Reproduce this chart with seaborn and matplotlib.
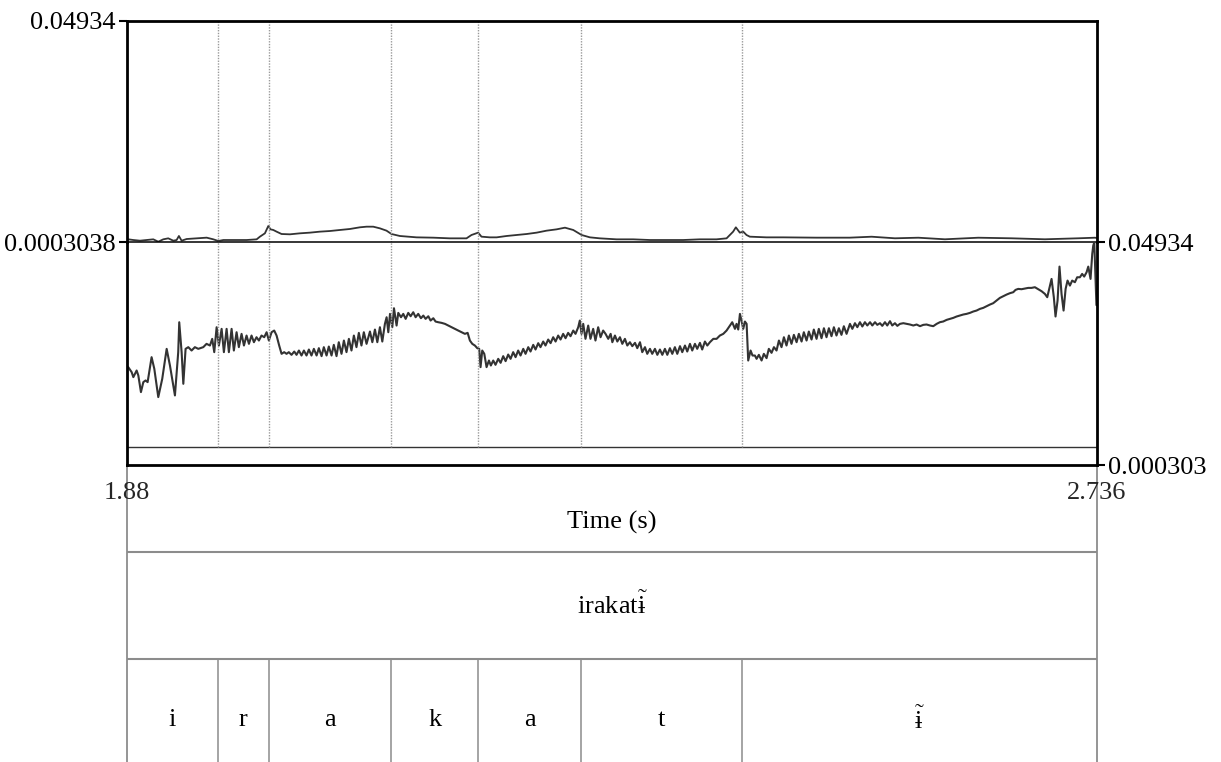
"""
plot.py
Praat-style picture: two contours over time (1.88 - 2.736 s),
with segment boundaries and a two-tier text grid underneath.
"""

import numpy as np
import pandas as pd
import matplotlib
matplotlib.use("Agg")
import matplotlib.pyplot as plt
import seaborn as sns

sns.set_theme(style="white")
plt.rcParams["font.family"] = ["Liberation Serif", "DejaVu Serif"]
plt.rcParams["mathtext.fontset"] = "custom"
plt.rcParams["mathtext.rm"] = "Liberation Serif"
plt.rcParams["mathtext.it"] = "Liberation Serif:italic"

# ===== Data =====
T_START, T_END = 1.88, 2.736
TOP_LIM = (0.0003038, 0.04934)
BOT_LIM = (0.000303, 0.04934)
TOP_TICKLABELS = ["0.0003038", "0.04934"]
BOT_TICKLABELS = ["0.000303", "0.04934"]
X_TICKLABELS = ["1.88", "2.736"]

boundaries = [1.960, 2.005, 2.113, 2.190, 2.281, 2.423]
# barred i with tilde above, set with mathtext so the tilde sits on the letter
I_TILDE = r"$\tilde{\mathrm{" + "\u0268" + r"}}$"
phones = ["i", "r", "a", "k", "a", "t", I_TILDE]
word = "irakat" + I_TILDE

# (time s, value x 1e-3)
top_trace = [
    (1.8800, 0.96), (1.8812, 0.96), (1.8856, 0.81), (1.8915, 0.66), (1.8973, 0.81),
    (1.9032, 0.96), (1.9076, 0.44), (1.9120, 0.96), (1.9164, 1.18), (1.9209, 0.66),
    (1.9238, 0.81), (1.9258, 1.70), (1.9282, 0.66), (1.9326, 1.03), (1.9414, 1.18),
    (1.9503, 1.33), (1.9562, 0.96), (1.9606, 0.59), (1.9650, 0.81), (1.9738, 0.81),
    (1.9856, 0.81), (1.9944, 0.96), (1.9973, 1.55), (2.0017, 2.29), (2.0047, 3.91),
    (2.0067, 3.17), (2.0091, 3.03), (2.0120, 2.66), (2.0164, 2.14), (2.0238, 2.07),
    (2.0326, 2.29), (2.0414, 2.44), (2.0502, 2.66), (2.0590, 2.80), (2.0679, 3.03),
    (2.0767, 3.25), (2.0855, 3.62), (2.0914, 3.76), (2.0973, 3.76), (2.1032, 3.39),
    (2.1090, 2.88), (2.1134, 2.14), (2.1208, 1.70), (2.1355, 1.40), (2.1502, 1.33),
    (2.1649, 1.18), (2.1796, 1.18), (2.1840, 1.92), (2.1899, 2.44), (2.1928, 1.55),
    (2.2002, 1.40), (2.2062, 1.40), (2.2150, 1.70), (2.2238, 1.92), (2.2327, 2.14),
    (2.2415, 2.44), (2.2503, 2.88), (2.2591, 3.17), (2.2665, 3.54), (2.2738, 3.03),
    (2.2812, 1.92), (2.2885, 1.40), (2.2973, 1.18), (2.3120, 0.96), (2.3267, 0.96),
    (2.3414, 0.81), (2.3561, 0.81), (2.3708, 0.81), (2.3855, 0.96), (2.4002, 0.96),
    (2.4091, 1.18), (2.4149, 2.66), (2.4173, 3.62), (2.4208, 2.44), (2.4238, 2.66),
    (2.4267, 1.92), (2.4296, 1.55), (2.4443, 1.40), (2.4590, 1.40), (2.4884, 1.33),
    (2.5178, 1.33), (2.5371, 1.54), (2.5577, 1.19), (2.5783, 1.32), (2.6018, 0.97),
    (2.6312, 1.32), (2.6606, 1.19), (2.6900, 0.97), (2.7194, 1.19), (2.7341, 1.32),
    (2.7360, 1.26),
]

bottom_trace = [
    (1.8811, 21.85), (1.8841, 20.75), (1.8856, 19.65), (1.8885, 21.11), (1.8900, 20.01),
    (1.8923, 16.35), (1.8944, 18.55), (1.8964, 18.92), (1.8982, 18.55), (1.9017, 24.05),
    (1.9041, 21.48), (1.9076, 15.25), (1.9111, 19.28), (1.9150, 25.88), (1.9179, 22.21),
    (1.9223, 15.62), (1.9252, 25.15), (1.9261, 31.74), (1.9282, 25.15), (1.9297, 18.18),
    (1.9317, 25.88), (1.9341, 26.25), (1.9370, 25.51), (1.9399, 26.25), (1.9429, 25.88),
    (1.9473, 26.25), (1.9502, 26.98), (1.9532, 26.61), (1.9552, 28.08), (1.9570, 25.15),
    (1.9591, 30.64), (1.9611, 26.61), (1.9635, 30.28), (1.9655, 25.15), (1.9679, 30.28),
    (1.9699, 25.15), (1.9723, 30.28), (1.9743, 25.51), (1.9767, 29.54), (1.9787, 26.25),
    (1.9811, 29.18), (1.9832, 26.61), (1.9855, 28.81), (1.9876, 26.98), (1.9899, 28.81),
    (1.9920, 27.34), (1.9943, 28.44), (1.9964, 27.71), (1.9987, 28.81), (2.0011, 28.44),
    (2.0032, 29.54), (2.0052, 27.71), (2.0076, 29.54), (2.0099, 29.91), (2.0120, 28.81),
    (2.0143, 26.61), (2.0164, 24.78), (2.0187, 25.15), (2.0208, 24.78), (2.0228, 25.15),
    (2.0252, 24.56), (2.0276, 25.29), (2.0296, 24.56), (2.0317, 25.51), (2.0340, 24.41),
    (2.0361, 25.51), (2.0384, 24.41), (2.0405, 25.73), (2.0428, 24.41), (2.0449, 25.88),
    (2.0473, 24.41), (2.0493, 26.03), (2.0517, 24.27), (2.0537, 26.25), (2.0561, 24.41),
    (2.0581, 26.39), (2.0605, 24.41), (2.0625, 26.76), (2.0649, 24.27), (2.0669, 27.34),
    (2.0693, 24.78), (2.0714, 27.71), (2.0737, 25.15), (2.0758, 28.08), (2.0781, 25.51),
    (2.0802, 28.81), (2.0825, 26.25), (2.0846, 29.40), (2.0869, 26.61), (2.0890, 29.54),
    (2.0914, 26.98), (2.0944, 29.69), (2.0965, 27.34), (2.0988, 30.13), (2.1009, 27.34),
    (2.1032, 30.64), (2.1053, 27.49), (2.1076, 31.38), (2.1091, 32.84), (2.1106, 29.54),
    (2.1121, 33.58), (2.1141, 30.64), (2.1156, 34.82), (2.1179, 31.01), (2.1194, 33.80),
    (2.1218, 32.84), (2.1238, 33.58), (2.1259, 32.48), (2.1282, 33.80), (2.1303, 33.06),
    (2.1326, 33.94), (2.1347, 32.84), (2.1370, 33.58), (2.1394, 32.62), (2.1415, 33.21),
    (2.1435, 32.48), (2.1459, 33.06), (2.1479, 32.11), (2.1503, 32.62), (2.1523, 31.89),
    (2.1547, 31.74), (2.1576, 31.60), (2.1606, 31.38), (2.1635, 31.01), (2.1664, 30.64),
    (2.1694, 30.28), (2.1723, 29.91), (2.1753, 29.54), (2.1782, 29.18), (2.1806, 29.40),
    (2.1826, 27.71), (2.1847, 26.98), (2.1870, 26.61), (2.1891, 26.03), (2.1908, 25.88),
    (2.1920, 21.85), (2.1935, 25.51), (2.1953, 24.78), (2.1973, 21.85), (2.1994, 23.31),
    (2.2011, 22.21), (2.2032, 23.31), (2.2052, 22.36), (2.2076, 23.68), (2.2097, 22.80),
    (2.2120, 24.27), (2.2141, 23.17), (2.2164, 24.63), (2.2185, 23.68), (2.2208, 25.15),
    (2.2229, 24.05), (2.2252, 25.51), (2.2273, 24.41), (2.2297, 25.88), (2.2317, 24.78),
    (2.2341, 26.25), (2.2361, 25.29), (2.2385, 26.76), (2.2405, 25.73), (2.2429, 27.13),
    (2.2449, 26.25), (2.2473, 27.49), (2.2493, 26.61), (2.2517, 27.93), (2.2538, 27.13),
    (2.2561, 28.44), (2.2582, 27.49), (2.2605, 28.81), (2.2626, 27.93), (2.2649, 29.18),
    (2.2670, 28.22), (2.2693, 29.40), (2.2714, 28.66), (2.2738, 29.91), (2.2758, 29.18),
    (2.2782, 30.64), (2.2796, 32.11), (2.2811, 29.18), (2.2826, 31.38), (2.2846, 28.08),
    (2.2870, 31.01), (2.2890, 28.08), (2.2914, 30.28), (2.2934, 27.71), (2.2958, 30.64),
    (2.2979, 28.44), (2.3002, 29.91), (2.3023, 29.18), (2.3047, 28.08), (2.3068, 29.18),
    (2.3083, 27.34), (2.3106, 28.81), (2.3127, 27.49), (2.3150, 28.44), (2.3171, 26.98),
    (2.3194, 28.08), (2.3215, 26.61), (2.3238, 27.34), (2.3259, 26.47), (2.3283, 27.20),
    (2.3303, 26.03), (2.3327, 27.34), (2.3347, 25.15), (2.3371, 26.25), (2.3391, 24.78),
    (2.3415, 25.88), (2.3435, 24.78), (2.3459, 25.88), (2.3480, 24.56), (2.3503, 25.73),
    (2.3524, 24.56), (2.3547, 25.88), (2.3568, 24.56), (2.3591, 26.03), (2.3612, 24.78),
    (2.3635, 26.25), (2.3656, 24.78), (2.3680, 26.47), (2.3700, 25.15), (2.3724, 26.61),
    (2.3744, 25.29), (2.3768, 26.98), (2.3788, 25.51), (2.3812, 26.98), (2.3832, 25.88),
    (2.3856, 27.20), (2.3876, 25.73), (2.3900, 27.49), (2.3921, 26.61), (2.3944, 27.34),
    (2.3974, 28.08), (2.4003, 28.08), (2.4032, 28.81), (2.4062, 29.18), (2.4091, 29.91),
    (2.4121, 31.01), (2.4141, 31.74), (2.4165, 30.28), (2.4179, 31.38), (2.4194, 30.13),
    (2.4209, 33.58), (2.4223, 32.11), (2.4238, 30.28), (2.4253, 31.89), (2.4268, 31.38),
    (2.4282, 23.31), (2.4303, 25.51), (2.4320, 24.41), (2.4341, 24.41), (2.4356, 23.68),
    (2.4376, 24.56), (2.4400, 23.31), (2.4420, 24.78), (2.4444, 23.83), (2.4464, 25.88),
    (2.4488, 25.00), (2.4509, 26.25), (2.4532, 25.51), (2.4553, 27.71), (2.4576, 26.25),
    (2.4597, 28.44), (2.4620, 26.61), (2.4641, 28.81), (2.4664, 26.98), (2.4685, 28.96),
    (2.4709, 27.34), (2.4729, 29.18), (2.4753, 27.49), (2.4773, 29.54), (2.4797, 27.71),
    (2.4817, 29.69), (2.4841, 27.93), (2.4861, 30.13), (2.4885, 28.08), (2.4905, 30.28),
    (2.4929, 28.22), (2.4950, 30.42), (2.4973, 28.44), (2.4994, 30.42), (2.5017, 28.66),
    (2.5038, 30.64), (2.5061, 28.81), (2.5082, 30.42), (2.5105, 28.96), (2.5126, 30.86),
    (2.5150, 29.18), (2.5180, 31.38), (2.5201, 30.28), (2.5224, 31.53), (2.5245, 30.65),
    (2.5268, 31.75), (2.5289, 30.80), (2.5312, 31.75), (2.5333, 31.02), (2.5357, 31.75),
    (2.5377, 31.02), (2.5401, 31.75), (2.5421, 31.16), (2.5445, 31.53), (2.5465, 30.94),
    (2.5489, 31.75), (2.5509, 31.02), (2.5533, 31.97), (2.5553, 31.02), (2.5577, 31.53),
    (2.5598, 30.94), (2.5621, 31.38), (2.5651, 31.53), (2.5680, 31.38), (2.5709, 31.24),
    (2.5739, 31.02), (2.5768, 31.24), (2.5798, 30.87), (2.5827, 31.16), (2.5856, 31.24),
    (2.5886, 31.02), (2.5915, 30.87), (2.5945, 31.38), (2.5974, 31.75), (2.6003, 31.90),
    (2.6033, 32.26), (2.6062, 32.48), (2.6092, 32.70), (2.6121, 33.00), (2.6150, 33.22),
    (2.6180, 33.44), (2.6209, 33.58), (2.6239, 33.80), (2.6268, 34.10), (2.6297, 34.31),
    (2.6327, 34.68), (2.6356, 34.90), (2.6386, 35.27), (2.6415, 35.63), (2.6444, 35.93),
    (2.6474, 36.51), (2.6503, 37.10), (2.6533, 37.47), (2.6562, 37.83), (2.6591, 38.13),
    (2.6621, 38.35), (2.6641, 38.86), (2.6665, 39.08), (2.6694, 39.01), (2.6724, 39.15),
    (2.6753, 39.30), (2.6782, 39.30), (2.6812, 39.45), (2.6841, 39.01), (2.6871, 38.57),
    (2.6900, 37.98), (2.6921, 37.25), (2.6938, 39.08), (2.6959, 41.28), (2.6979, 37.25),
    (2.6994, 33.00), (2.7012, 36.51), (2.7029, 43.99), (2.7047, 37.98), (2.7065, 34.31),
    (2.7083, 39.08), (2.7100, 40.91), (2.7121, 39.81), (2.7141, 40.91), (2.7165, 40.55),
    (2.7185, 41.64), (2.7209, 41.64), (2.7229, 42.38), (2.7247, 41.79), (2.7268, 42.74),
    (2.7283, 43.99), (2.7303, 41.28), (2.7318, 46.78), (2.7327, 48.61), (2.7336, 49.34),
    (2.7355, 35.50),
]

# ===== Frames =====
top_df = pd.DataFrame(top_trace, columns=["time", "value"])
top_df["value"] *= 1e-3
bot_df = pd.DataFrame(bottom_trace, columns=["time", "value"])
bot_df["value"] *= 1e-3

# ===== Layout (figure fractions) =====
FW, FH = 1221, 762
L, W = 127 / FW, 970 / FW
FS = 19
LINE_C = "#333333"
GRID_C = "#8c8c8c"

fig = plt.figure(figsize=(FW / 100, FH / 100), dpi=100)
ax_top = fig.add_axes([L, 519.7 / FH, W, 221.6 / FH])
ax_bot = fig.add_axes([L, 297 / FH, W, 222.7 / FH], sharex=ax_top)
tg = fig.add_axes([L, -5 / FH, W, 302 / FH], sharex=ax_top)

# ===== Contours =====
sns.lineplot(data=top_df, x="time", y="value", ax=ax_top, color=LINE_C,
             lw=1.3, sort=False, estimator=None, solid_joinstyle="round")
sns.lineplot(data=bot_df, x="time", y="value", ax=ax_bot, color=LINE_C,
             lw=1.5, sort=False, estimator=None, solid_joinstyle="round")

for ax, lim in ((ax_top, TOP_LIM), (ax_bot, BOT_LIM)):
    ax.set_xlim(T_START, T_END)
    ax.set_ylim(*lim)
    ax.set_ylabel("")
    ax.set_facecolor("none")
    for s in ax.spines.values():
        s.set_color("black")
        s.set_linewidth(2)

# middle line between the two panels, thin
ax_top.spines["bottom"].set_linewidth(1.1)
ax_bot.spines["top"].set_visible(False)
# inner floor line of the lower panel
ax_bot.plot([0, 1], [0.082, 0.082], transform=ax_bot.transAxes,
            color=LINE_C, lw=1.0)

# dotted segment boundaries
ax_top.vlines(boundaries, 0, 1, transform=ax_top.get_xaxis_transform(),
              color="#9a9a9a", lw=1.0, ls=(0, (1, 1)))
ax_bot.vlines(boundaries, 0.082, 1, transform=ax_bot.get_xaxis_transform(),
              color="#9a9a9a", lw=1.0, ls=(0, (1, 1)))

# ticks
ax_top.set_yticks(TOP_LIM, TOP_TICKLABELS)
ax_top.tick_params(axis="y", left=True, right=False, length=6, width=1.5,
                   direction="out", labelsize=FS, pad=2, colors="black")
ax_top.tick_params(axis="x", bottom=False, labelbottom=False)
ax_top.set_xlabel("")

ax_bot.yaxis.tick_right()
ax_bot.set_yticks(BOT_LIM, BOT_TICKLABELS)
ax_bot.tick_params(axis="y", left=False, right=True, length=6, width=1.5,
                   direction="out", labelsize=FS, pad=2, colors="black")
ax_bot.set_xticks([T_START, T_END], X_TICKLABELS)
ax_bot.tick_params(axis="x", bottom=True, length=0, labelsize=FS, pad=12)
ax_bot.set_xlabel("Time (s)", fontsize=FS, labelpad=5, color="black")

# ===== Text grid (y in pixels from figure bottom) =====
tg.set_ylim(-5, 297)
tg.set_facecolor("none")
tg.set_zorder(-1)
tg.tick_params(left=False, bottom=False, labelleft=False, labelbottom=False)
tg.set_xlabel("")
for side in ("top", "bottom"):
    tg.spines[side].set_visible(False)
for side in ("left", "right"):
    tg.spines[side].set_color(GRID_C)
    tg.spines[side].set_linewidth(1.3)

tg.hlines([210, 103], T_START, T_END, color=GRID_C, lw=1.5)
tg.vlines(boundaries, -5, 103, color=GRID_C, lw=1.1)

tg.text((T_START + T_END) / 2, 156.5, word, ha="center", va="center",
        fontsize=FS, color="black")
edges = [T_START] + boundaries + [T_END]
for lab, a, b in zip(phones, edges[:-1], edges[1:]):
    tg.text((a + b) / 2, 42, lab, ha="center", va="center",
            fontsize=FS, color="black")

fig.savefig("out.png", dpi=100)
